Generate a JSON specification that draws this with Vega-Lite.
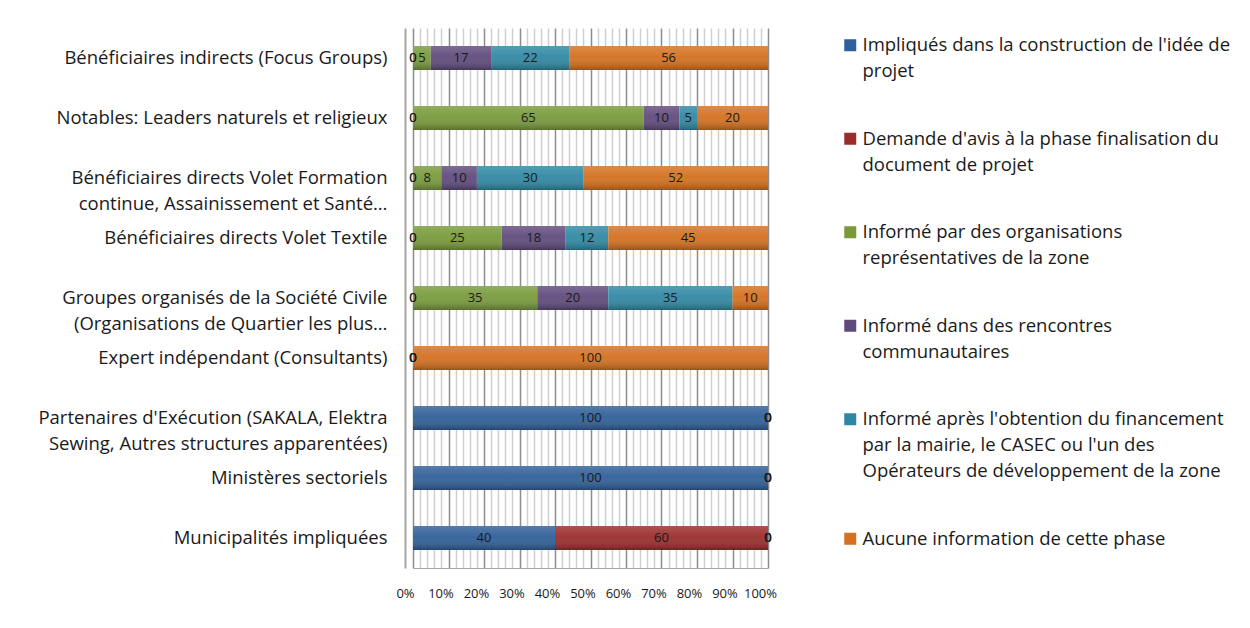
{
  "$schema": "https://vega.github.io/schema/vega-lite/v6.json",
  "width": 355,
  "height": 540,
  "autosize": {"type": "none"},
  "padding": {"left": 413, "top": 28, "right": 482, "bottom": 60},
  "background": "white",
  "config": {
    "font": "Open Sans",
    "view": {"stroke": null},
    "style": {"guide-label": {"lineHeight": 26}}
  },
  "data": {
    "values": [
      {"groupe": "Bénéficiaires indirects (Focus Groups)", "serie": "Impliqués dans la construction de l'idée de\nprojet", "k": 1, "pct": 0},
      {"groupe": "Bénéficiaires indirects (Focus Groups)", "serie": "Demande d'avis à la phase finalisation du\ndocument de projet", "k": 2, "pct": 0},
      {"groupe": "Bénéficiaires indirects (Focus Groups)", "serie": "Informé par des organisations\nreprésentatives de la zone", "k": 3, "pct": 5},
      {"groupe": "Bénéficiaires indirects (Focus Groups)", "serie": "Informé dans des rencontres\ncommunautaires", "k": 4, "pct": 17},
      {"groupe": "Bénéficiaires indirects (Focus Groups)", "serie": "Informé après l'obtention du financement\npar la mairie, le CASEC ou l'un des\nOpérateurs de développement de la zone", "k": 5, "pct": 22},
      {"groupe": "Bénéficiaires indirects (Focus Groups)", "serie": "Aucune information de cette phase", "k": 6, "pct": 56},

      {"groupe": "Notables: Leaders naturels et religieux", "serie": "Impliqués dans la construction de l'idée de\nprojet", "k": 1, "pct": 0},
      {"groupe": "Notables: Leaders naturels et religieux", "serie": "Demande d'avis à la phase finalisation du\ndocument de projet", "k": 2, "pct": 0},
      {"groupe": "Notables: Leaders naturels et religieux", "serie": "Informé par des organisations\nreprésentatives de la zone", "k": 3, "pct": 65},
      {"groupe": "Notables: Leaders naturels et religieux", "serie": "Informé dans des rencontres\ncommunautaires", "k": 4, "pct": 10},
      {"groupe": "Notables: Leaders naturels et religieux", "serie": "Informé après l'obtention du financement\npar la mairie, le CASEC ou l'un des\nOpérateurs de développement de la zone", "k": 5, "pct": 5},
      {"groupe": "Notables: Leaders naturels et religieux", "serie": "Aucune information de cette phase", "k": 6, "pct": 20},

      {"groupe": "Bénéficiaires directs Volet Formation\ncontinue, Assainissement et Santé…", "serie": "Impliqués dans la construction de l'idée de\nprojet", "k": 1, "pct": 0},
      {"groupe": "Bénéficiaires directs Volet Formation\ncontinue, Assainissement et Santé…", "serie": "Demande d'avis à la phase finalisation du\ndocument de projet", "k": 2, "pct": 0},
      {"groupe": "Bénéficiaires directs Volet Formation\ncontinue, Assainissement et Santé…", "serie": "Informé par des organisations\nreprésentatives de la zone", "k": 3, "pct": 8},
      {"groupe": "Bénéficiaires directs Volet Formation\ncontinue, Assainissement et Santé…", "serie": "Informé dans des rencontres\ncommunautaires", "k": 4, "pct": 10},
      {"groupe": "Bénéficiaires directs Volet Formation\ncontinue, Assainissement et Santé…", "serie": "Informé après l'obtention du financement\npar la mairie, le CASEC ou l'un des\nOpérateurs de développement de la zone", "k": 5, "pct": 30},
      {"groupe": "Bénéficiaires directs Volet Formation\ncontinue, Assainissement et Santé…", "serie": "Aucune information de cette phase", "k": 6, "pct": 52},

      {"groupe": "Bénéficiaires directs Volet Textile", "serie": "Impliqués dans la construction de l'idée de\nprojet", "k": 1, "pct": 0},
      {"groupe": "Bénéficiaires directs Volet Textile", "serie": "Demande d'avis à la phase finalisation du\ndocument de projet", "k": 2, "pct": 0},
      {"groupe": "Bénéficiaires directs Volet Textile", "serie": "Informé par des organisations\nreprésentatives de la zone", "k": 3, "pct": 25},
      {"groupe": "Bénéficiaires directs Volet Textile", "serie": "Informé dans des rencontres\ncommunautaires", "k": 4, "pct": 18},
      {"groupe": "Bénéficiaires directs Volet Textile", "serie": "Informé après l'obtention du financement\npar la mairie, le CASEC ou l'un des\nOpérateurs de développement de la zone", "k": 5, "pct": 12},
      {"groupe": "Bénéficiaires directs Volet Textile", "serie": "Aucune information de cette phase", "k": 6, "pct": 45},

      {"groupe": "Groupes organisés de la Société Civile\n(Organisations de Quartier les plus…", "serie": "Impliqués dans la construction de l'idée de\nprojet", "k": 1, "pct": 0},
      {"groupe": "Groupes organisés de la Société Civile\n(Organisations de Quartier les plus…", "serie": "Demande d'avis à la phase finalisation du\ndocument de projet", "k": 2, "pct": 0},
      {"groupe": "Groupes organisés de la Société Civile\n(Organisations de Quartier les plus…", "serie": "Informé par des organisations\nreprésentatives de la zone", "k": 3, "pct": 35},
      {"groupe": "Groupes organisés de la Société Civile\n(Organisations de Quartier les plus…", "serie": "Informé dans des rencontres\ncommunautaires", "k": 4, "pct": 20},
      {"groupe": "Groupes organisés de la Société Civile\n(Organisations de Quartier les plus…", "serie": "Informé après l'obtention du financement\npar la mairie, le CASEC ou l'un des\nOpérateurs de développement de la zone", "k": 5, "pct": 35},
      {"groupe": "Groupes organisés de la Société Civile\n(Organisations de Quartier les plus…", "serie": "Aucune information de cette phase", "k": 6, "pct": 10},

      {"groupe": "Expert indépendant (Consultants)", "serie": "Impliqués dans la construction de l'idée de\nprojet", "k": 1, "pct": 0},
      {"groupe": "Expert indépendant (Consultants)", "serie": "Demande d'avis à la phase finalisation du\ndocument de projet", "k": 2, "pct": 0},
      {"groupe": "Expert indépendant (Consultants)", "serie": "Informé par des organisations\nreprésentatives de la zone", "k": 3, "pct": 0},
      {"groupe": "Expert indépendant (Consultants)", "serie": "Informé dans des rencontres\ncommunautaires", "k": 4, "pct": 0},
      {"groupe": "Expert indépendant (Consultants)", "serie": "Informé après l'obtention du financement\npar la mairie, le CASEC ou l'un des\nOpérateurs de développement de la zone", "k": 5, "pct": 0},
      {"groupe": "Expert indépendant (Consultants)", "serie": "Aucune information de cette phase", "k": 6, "pct": 100},

      {"groupe": "Partenaires d'Exécution (SAKALA, Elektra\nSewing, Autres structures apparentées)", "serie": "Impliqués dans la construction de l'idée de\nprojet", "k": 1, "pct": 100},
      {"groupe": "Partenaires d'Exécution (SAKALA, Elektra\nSewing, Autres structures apparentées)", "serie": "Demande d'avis à la phase finalisation du\ndocument de projet", "k": 2, "pct": 0},
      {"groupe": "Partenaires d'Exécution (SAKALA, Elektra\nSewing, Autres structures apparentées)", "serie": "Informé par des organisations\nreprésentatives de la zone", "k": 3, "pct": 0},
      {"groupe": "Partenaires d'Exécution (SAKALA, Elektra\nSewing, Autres structures apparentées)", "serie": "Informé dans des rencontres\ncommunautaires", "k": 4, "pct": 0},
      {"groupe": "Partenaires d'Exécution (SAKALA, Elektra\nSewing, Autres structures apparentées)", "serie": "Informé après l'obtention du financement\npar la mairie, le CASEC ou l'un des\nOpérateurs de développement de la zone", "k": 5, "pct": 0},
      {"groupe": "Partenaires d'Exécution (SAKALA, Elektra\nSewing, Autres structures apparentées)", "serie": "Aucune information de cette phase", "k": 6, "pct": 0},

      {"groupe": "Ministères sectoriels", "serie": "Impliqués dans la construction de l'idée de\nprojet", "k": 1, "pct": 100},
      {"groupe": "Ministères sectoriels", "serie": "Demande d'avis à la phase finalisation du\ndocument de projet", "k": 2, "pct": 0},
      {"groupe": "Ministères sectoriels", "serie": "Informé par des organisations\nreprésentatives de la zone", "k": 3, "pct": 0},
      {"groupe": "Ministères sectoriels", "serie": "Informé dans des rencontres\ncommunautaires", "k": 4, "pct": 0},
      {"groupe": "Ministères sectoriels", "serie": "Informé après l'obtention du financement\npar la mairie, le CASEC ou l'un des\nOpérateurs de développement de la zone", "k": 5, "pct": 0},
      {"groupe": "Ministères sectoriels", "serie": "Aucune information de cette phase", "k": 6, "pct": 0},

      {"groupe": "Municipalités impliquées", "serie": "Impliqués dans la construction de l'idée de\nprojet", "k": 1, "pct": 40},
      {"groupe": "Municipalités impliquées", "serie": "Demande d'avis à la phase finalisation du\ndocument de projet", "k": 2, "pct": 60},
      {"groupe": "Municipalités impliquées", "serie": "Informé par des organisations\nreprésentatives de la zone", "k": 3, "pct": 0},
      {"groupe": "Municipalités impliquées", "serie": "Informé dans des rencontres\ncommunautaires", "k": 4, "pct": 0},
      {"groupe": "Municipalités impliquées", "serie": "Informé après l'obtention du financement\npar la mairie, le CASEC ou l'un des\nOpérateurs de développement de la zone", "k": 5, "pct": 0},
      {"groupe": "Municipalités impliquées", "serie": "Aucune information de cette phase", "k": 6, "pct": 0}
    ]
  },
  "encoding": {
    "y": {
      "field": "groupe",
      "type": "nominal",
      "sort": null,
      "scale": {"paddingInner": 0.6, "paddingOuter": 0.3},
      "axis": {
        "title": null,
        "labelExpr": "split(datum.label, '\\n')",
        "labelFontSize": 18.5,
        "labelColor": "#1a1a1a",
        "labelLimit": 420,
        "labelPadding": 18,
        "ticks": false,
        "offset": 8,
        "domainColor": "#a6a6a6",
        "domainWidth": 2,
        "grid": false
      }
    },
    "x": {
      "field": "pct",
      "type": "quantitative",
      "stack": "normalize",
      "scale": {"domain": [0, 1], "nice": false},
      "axis": {
        "title": null,
        "values": [0, 0.02, 0.04, 0.06, 0.08, 0.1, 0.12, 0.14, 0.16, 0.18, 0.2, 0.22, 0.24, 0.26, 0.28, 0.3, 0.32, 0.34, 0.36, 0.38, 0.4, 0.42, 0.44, 0.46, 0.48, 0.5, 0.52, 0.54, 0.56, 0.58, 0.6, 0.62, 0.64, 0.66, 0.68, 0.7, 0.72, 0.74, 0.76, 0.78, 0.8, 0.82, 0.84, 0.86, 0.88, 0.9, 0.92, 0.94, 0.96, 0.98, 1],
        "labelExpr": "round(datum.value * 100) % 10 == 0 ? round(datum.value * 100) + '%' : ''",
        "labelFontSize": 13,
        "labelColor": "#1a1a1a",
        "labelOffset": -8,
        "labelPadding": 19,
        "labelOverlap": false,
        "labelFlush": false,
        "ticks": false,
        "domainColor": "#a6a6a6",
        "domainWidth": 1,
        "grid": true,
        "gridColor": {"condition": {"test": "round(datum.value * 100) % 10 == 0", "value": "#8c8c8c"}, "value": "#cfcfcf"},
        "gridWidth": 1.5
      }
    },
    "order": {"field": "k", "type": "quantitative"}
  },
  "layer": [
    {
      "mark": {"type": "bar"},
      "encoding": {
        "color": {
          "field": "serie",
          "type": "nominal",
          "scale": {
            "domain": [
              "Impliqués dans la construction de l'idée de\nprojet",
              "Demande d'avis à la phase finalisation du\ndocument de projet",
              "Informé par des organisations\nreprésentatives de la zone",
              "Informé dans des rencontres\ncommunautaires",
              "Informé après l'obtention du financement\npar la mairie, le CASEC ou l'un des\nOpérateurs de développement de la zone",
              "Aucune information de cette phase"
            ],
            "range": ["#2f5f98", "#9a2c2c", "#789a3b", "#604a7c", "#2f88a3", "#d4701f"]
          },
          "legend": {
            "title": null,
            "orient": "none",
            "legendX": 428,
            "legendY": 14,
            "symbolType": "M-1,-2H1V0H-1Z",
            "symbolSize": 144,
            "symbolStrokeWidth": 0,
            "labelFontSize": 18.5,
            "labelColor": "#1a1a1a",
            "labelLimit": 420,
            "labelOffset": 3,
            "labelBaseline": "alphabetic",
            "labelExpr": "split(datum.label, '\\n')",
            "rowPadding": 48.5,
            "padding": 0
          }
        }
      }
    },
    {
      "mark": {
        "type": "bar",
        "fill": {
          "gradient": "linear",
          "x1": 0, "y1": 0, "x2": 0, "y2": 1,
          "stops": [
            {"offset": 0, "color": "rgba(255,255,255,0.18)"},
            {"offset": 0.45, "color": "rgba(255,255,255,0.05)"},
            {"offset": 1, "color": "rgba(0,0,0,0.28)"}
          ]
        }
      },
      "encoding": {"detail": {"field": "serie"}}
    },
    {
      "transform": [
        {"stack": "pct", "groupby": ["groupe"], "sort": [{"field": "k"}], "offset": "normalize", "as": ["debut", "fin"]},
        {"fold": ["debut", "fin"], "as": ["borne", "position"]},
        {"aggregate": [{"op": "mean", "field": "position", "as": "milieu"}], "groupby": ["groupe", "serie", "k", "pct"]}
      ],
      "mark": {"type": "text", "fontSize": 13, "color": "#1a1a1a"},
      "encoding": {
        "x": {"field": "milieu", "type": "quantitative", "stack": null},
        "text": {"field": "pct", "type": "quantitative"},
        "detail": {"field": "serie"}
      }
    }
  ]
}
